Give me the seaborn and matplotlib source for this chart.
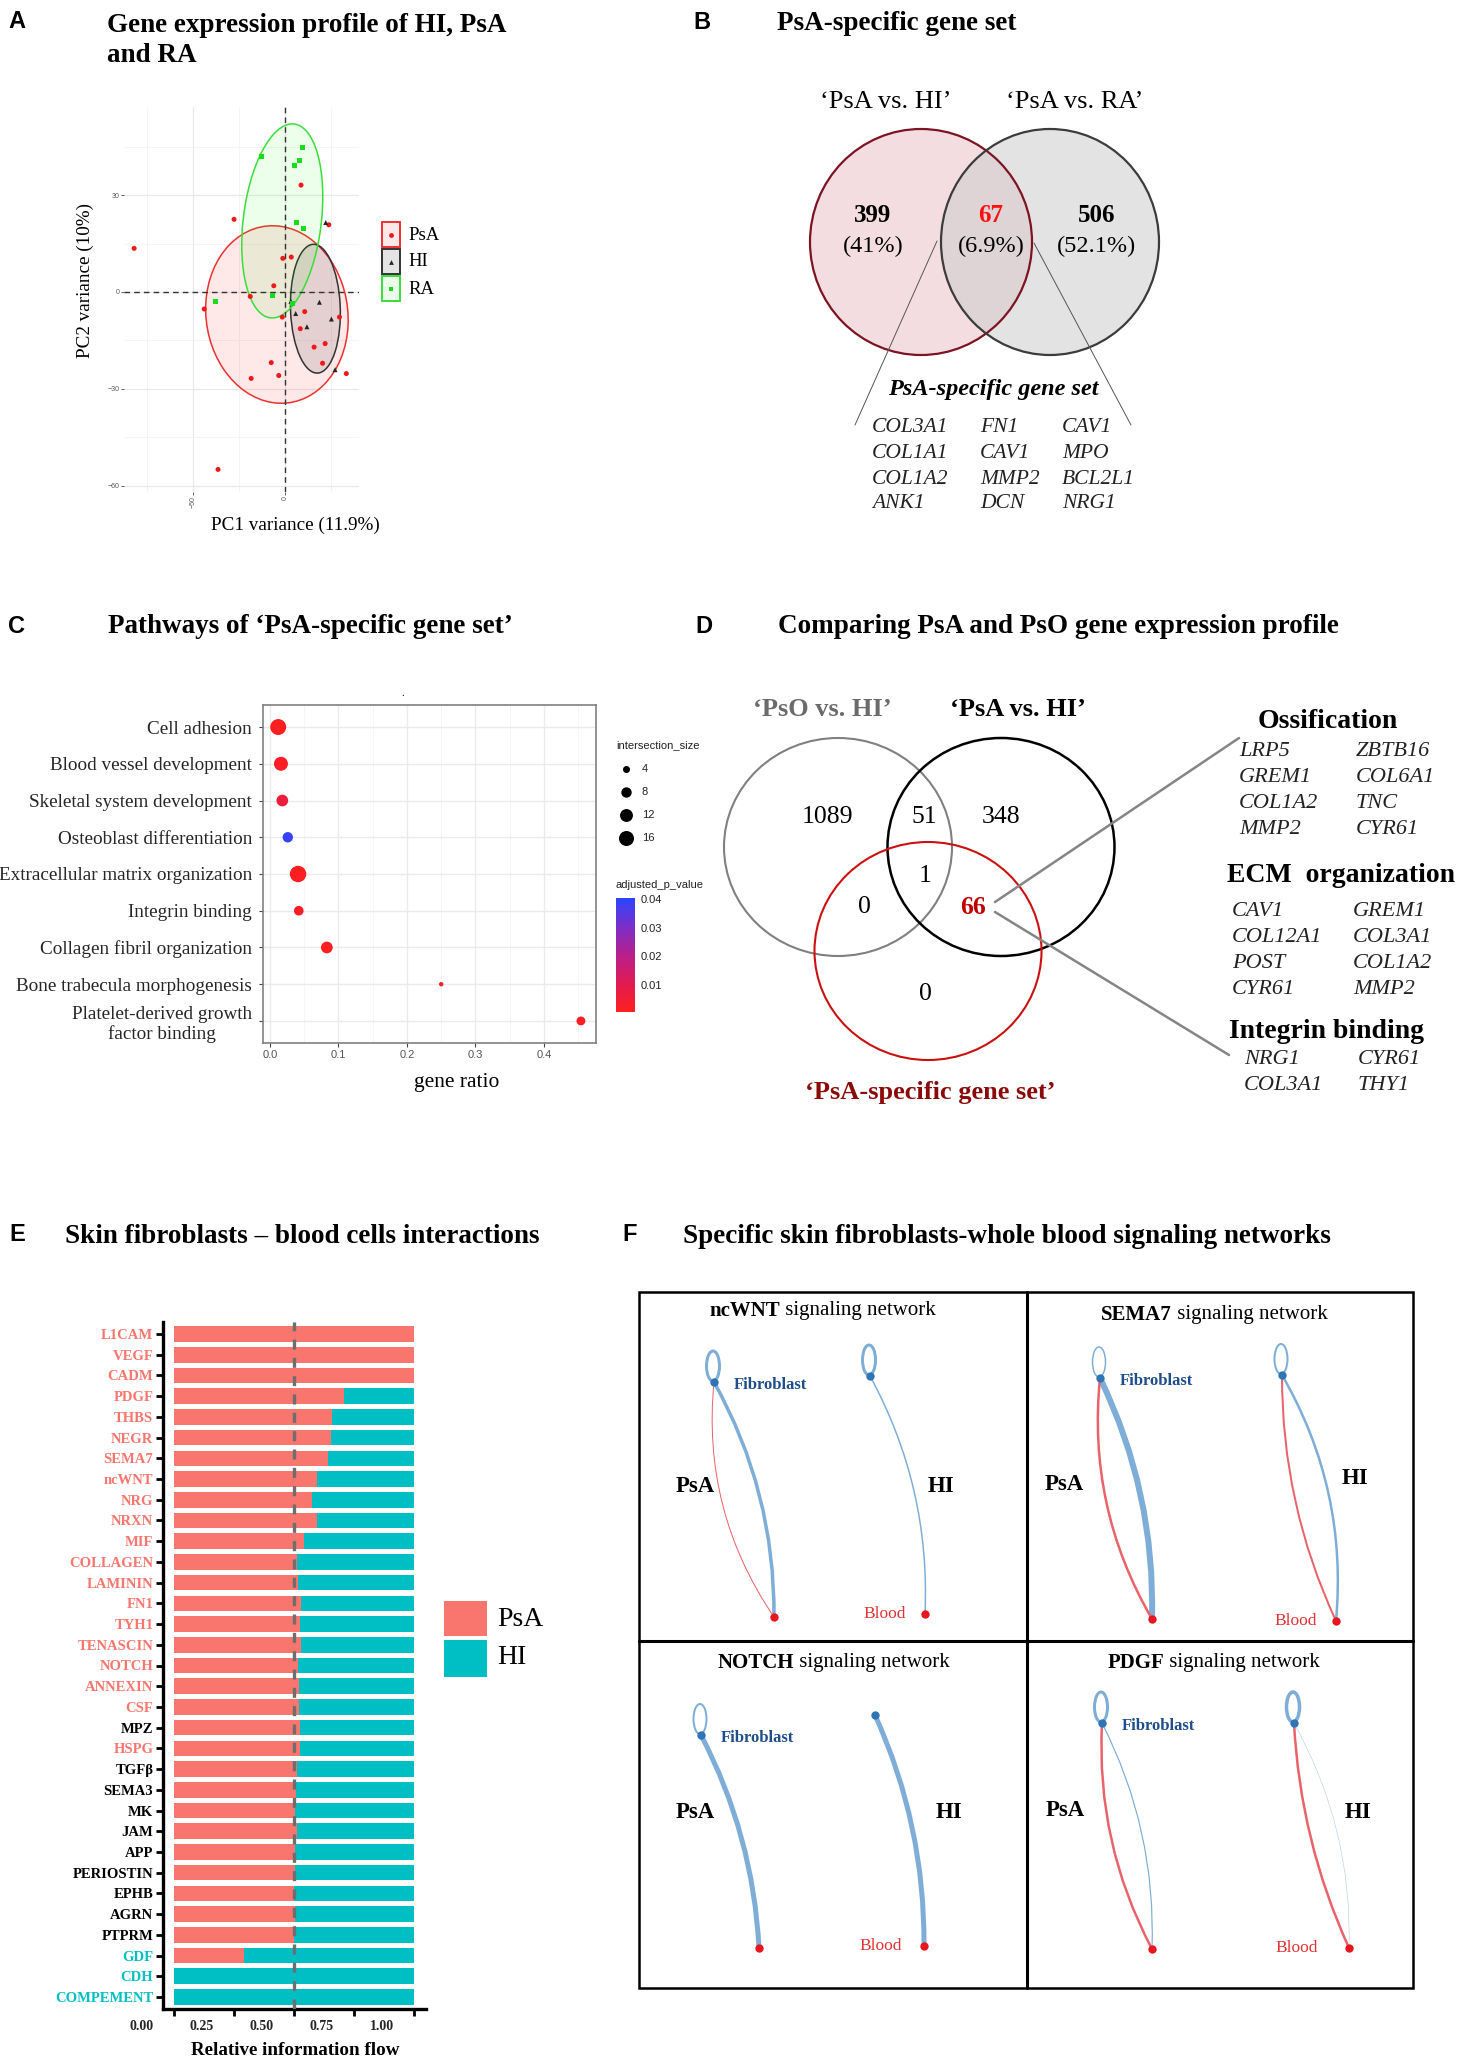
import numpy as np
import pandas as pd
import matplotlib
matplotlib.use("Agg")
import matplotlib.pyplot as plt
import seaborn as sns
from matplotlib.patches import Ellipse, Rectangle, PathPatch
from matplotlib.path import Path
from matplotlib.colors import LinearSegmentedColormap, Normalize
from matplotlib.cm import ScalarMappable
from matplotlib.ticker import FormatStrFormatter
import matplotlib.transforms as mtransforms

# ======================= DATA =======================
# Panel A : PCA scores
psa_pc1 = [-82, -27.7, -1.2, 3.4, -6.1, -18.9, -43.9, -1.5, 10.7, 8.3, 15.8, 21.8,
           -7.5, 20.4, -3.4, -18.4, 29.6, 33.3, 23.8, 8.7, -36.4]
psa_pc2 = [13.5, 22.5, 10.4, 10.8, 1.9, -1.4, -5.3, -7.8, -6.1, -11.4, -17.1, -16.0,
           -21.9, -22.1, -25.9, -26.8, -7.8, -25.3, 20.8, 33.1, -55.0]
hi_pc1 = [3.2, 5.8, 18.7, 25.2, 11.9, 27.2, 22.1]
hi_pc2 = [-2.9, -6.7, -3.2, -8.4, -10.8, -24.1, 21.5]
ra_pc1 = [-12.9, 9.7, 7.8, 5.3, 6.3, 10.2, -37.6, -7.0, 3.9]
ra_pc2 = [41.9, 44.6, 40.6, 39.2, 21.4, 19.7, -2.9, -1.0, -3.6]
groups_A = ["PsA", "HI", "RA"]
ell_cx = [-4.4, 16.5, -1.5]
ell_cy = [-7.0, -5.2, 22.0]
ell_w = [77.6, 40.0, 62.0]
ell_h = [54.8, 27.0, 41.4]
ell_angle = [-5, 95, 71]

# Panel B : Venn
venn_b_sets = ["‘PsA vs. HI’", "‘PsA vs. RA’"]
venn_b_counts = [399, 67, 506]
venn_b_pcts = ["(41%)", "(6.9%)", "(52.1%)"]
psa_gene_cols = [["COL3A1", "COL1A1", "COL1A2", "ANK1"],
                 ["FN1", "CAV1", "MMP2", "DCN"],
                 ["CAV1", "MPO", "BCL2L1", "NRG1"]]

# Panel C : pathway enrichment
pathways = ["Cell adhesion", "Blood vessel development", "Skeletal system development",
            "Osteoblast differentiation", "Extracellular matrix organization",
            "Integrin binding", "Collagen fibril organization",
            "Bone trabecula morphogenesis", "Platelet-derived growth\nfactor binding"]
gene_ratio = [0.012, 0.016, 0.018, 0.026, 0.041, 0.042, 0.083, 0.250, 0.454]
intersection_size = [18, 14, 10, 8, 19, 7, 10, 2, 6]
adjusted_p = [0.001, 0.002, 0.006, 0.039, 0.0008, 0.002, 0.001, 0.004, 0.001]
size_legend_vals = [4, 8, 12, 16]
p_ticks = [0.01, 0.02, 0.03, 0.04]

# Panel D : three-way Venn
venn_d_sets = ["‘PsO vs. HI’", "‘PsA vs. HI’", "‘PsA-specific gene set’"]
venn_d_counts = {"PsO": 1089, "PsO&PsA": 51, "PsA": 348, "all": 1,
                 "PsO&spec": 0, "PsA&spec": 66, "spec": 0}
go_terms = ["Ossification", "ECM  organization", "Integrin binding"]
go_genes = [[["LRP5", "GREM1", "COL1A2", "MMP2"], ["ZBTB16", "COL6A1", "TNC", "CYR61"]],
            [["CAV1", "COL12A1", "POST", "CYR61"], ["GREM1", "COL3A1", "COL1A2", "MMP2"]],
            [["NRG1", "COL3A1"], ["CYR61", "THY1"]]]

# Panel E : relative information flow
signals = ["L1CAM", "VEGF", "CADM", "PDGF", "THBS", "NEGR", "SEMA7", "ncWNT", "NRG", "NRXN",
           "MIF", "COLLAGEN", "LAMININ", "FN1", "TYH1", "TENASCIN", "NOTCH", "ANNEXIN", "CSF",
           "MPZ", "HSPG", "TGFβ", "SEMA3", "MK", "JAM", "APP", "PERIOSTIN", "EPHB", "AGRN",
           "PTPRM", "GDF", "CDH", "COMPEMENT"]
psa_flow = [1, 1, 1, 0.709, 0.658, 0.656, 0.642, 0.594, 0.576, 0.594, 0.540, 0.514, 0.518,
            0.530, 0.527, 0.529, 0.518, 0.519, 0.519, 0.524, 0.524, 0.514, 0.510, 0.506,
            0.514, 0.506, 0.506, 0.498, 0.506, 0.502, 0.29, 0, 0]
signal_group = ["PsA"] * 19 + ["ns", "PsA"] + ["ns"] * 9 + ["HI"] * 3
flow_ticks = [0, 0.25, 0.5, 0.75, 1.0]

# Panel F : signalling networks (edge strengths, px)
net_names = ["ncWNT", "SEMA7", "NOTCH", "PDGF"]
psa_blue_w = [3.5, 6.0, 5.0, 1.2]
psa_red_w = [1.0, 2.5, 0.0, 2.5]
psa_loop_w = [3.0, 1.5, 2.0, 3.0]
hi_blue_w = [1.5, 2.5, 5.0, 0.6]
hi_red_w = [0.0, 2.0, 0.0, 2.5]
hi_loop_w = [3.0, 2.0, 0.0, 3.5]

# ======================= SETUP =======================
W, H = 1459, 2060
sns.set_theme(style="white")
SERIF = ["Liberation Serif", "DejaVu Serif"]
SANS = ["Liberation Sans", "DejaVu Sans"]
plt.rcParams["font.family"] = SERIF

fig = plt.figure(figsize=(W / 100, H / 100), dpi=100)
fig.patch.set_facecolor("white")


def rect(x0, y0, x1, y1):
    return [x0 / W, 1 - y1 / H, (x1 - x0) / W, (y1 - y0) / H]


canvas = fig.add_axes([0, 0, 1, 1])
canvas.set_xlim(0, W)
canvas.set_ylim(H, 0)
canvas.axis("off")
canvas.patch.set_alpha(0)
canvas.set_zorder(10)


def ctext(x, y, s, size, weight="normal", style="normal", color="black", ha="left",
          va="center", family=None, **kw):
    return canvas.text(x, y, s, fontsize=size, fontweight=weight, fontstyle=style,
                       color=color, ha=ha, va=va, family=family or SERIF, **kw)


TS = 19.5
# panel letters & titles (baseline-anchored)
for lab, x, y in [("A", 8, 28), ("B", 693, 29), ("C", 8, 633), ("D", 695, 633),
                  ("E", 9, 1241), ("F", 622, 1241)]:
    ctext(x, y, lab, 17, weight="bold", family=SANS, va="baseline")
ctext(107, 32, "Gene expression profile of HI, PsA", TS, weight="bold", va="baseline")
ctext(107, 62, "and RA", TS, weight="bold", va="baseline")
ctext(777, 30, "PsA-specific gene set", TS, weight="bold", va="baseline")
ctext(108, 633, "Pathways of ‘PsA-specific gene set’", TS, weight="bold", va="baseline")
ctext(778, 633, "Comparing PsA and PsO gene expression profile", TS, weight="bold", va="baseline")
ctext(65, 1243, "Skin fibroblasts – blood cells interactions", TS, weight="bold", va="baseline")
ctext(683, 1243, "Specific skin fibroblasts-whole blood signaling networks", TS, weight="bold",
      va="baseline")

# ======================= PANEL A =======================
axA = fig.add_axes(rect(124, 107, 359, 492))
dfA = pd.DataFrame({
    "PC1": psa_pc1 + hi_pc1 + ra_pc1,
    "PC2": psa_pc2 + hi_pc2 + ra_pc2,
    "group": ["PsA"] * len(psa_pc1) + ["HI"] * len(hi_pc1) + ["RA"] * len(ra_pc1)})
pal_A = {"PsA": "#f01818", "HI": "#262626", "RA": "#19dc19"}
edge_A = {"PsA": "#ee3030", "HI": "#333333", "RA": "#3ade3a"}
fill_A = {"PsA": (1, 0, 0, 0.09), "HI": (0.2, 0.2, 0.2, 0.13), "RA": (0, 1, 0, 0.08)}
for g, cx, cy, w, h, a in zip(groups_A, ell_cx, ell_cy, ell_w, ell_h, ell_angle):
    axA.add_patch(Ellipse((cx, cy), w, h, angle=a, facecolor=fill_A[g],
                          edgecolor=edge_A[g], lw=1.1, zorder=2))
sns.scatterplot(data=dfA, x="PC1", y="PC2", hue="group", style="group",
                markers={"PsA": "o", "HI": "^", "RA": "s"}, palette=pal_A, s=13,
                linewidth=0, legend=False, ax=axA, zorder=4)
axA.axvline(0, color="#333333", ls=(0, (4, 3)), lw=1.0, zorder=3)
axA.axhline(0, color="#333333", ls=(0, (4, 3)), lw=1.0, zorder=3)
axA.set_xlim(-87.5, 40.2)
axA.set_ylim(-62, 57.3)
axA.set_xticks([-50, 0])
axA.set_yticks([-60, -30, 0, 30])
axA.set_xticks([-75, -25, 25], minor=True)
axA.set_yticks([-45, -15, 15, 45], minor=True)
axA.set_axisbelow(True)
axA.grid(which="major", color="#e8e8e8", lw=0.9)
axA.grid(which="minor", color="#f3f3f3", lw=0.6)
for s in axA.spines.values():
    s.set_visible(False)
axA.tick_params(which="major", length=2, width=0.6, color="#444444", labelsize=5,
                labelcolor="#555555", pad=1, bottom=True, left=True)
axA.tick_params(which="minor", length=0)
axA.tick_params(axis="x", labelrotation=90)
for lab in axA.get_xticklabels() + axA.get_yticklabels():
    lab.set_fontfamily(SANS)
axA.set_xlabel("")
axA.set_ylabel("")
ctext(295, 525, "PC1 variance (11.9%)", 13.8, ha="center")
ctext(85, 280, "PC2 variance (10%)", 13.8, ha="center", rotation=90)
# legend A
mk = {"PsA": "o", "HI": "^", "RA": "s"}
for i, g in enumerate(groups_A):
    y0 = 222 + i * 27
    canvas.add_patch(Rectangle((382, y0), 18, 25, facecolor=fill_A[g], edgecolor=edge_A[g], lw=1.4))
    canvas.scatter([391], [y0 + 12.5], marker=mk[g], s=12, color=pal_A[g], linewidths=0)
    ctext(408, y0 + 13, g, 13.5)

# ======================= PANEL B =======================
canvas.add_patch(Ellipse((921, 242), 222, 226, facecolor="#f4dde0", edgecolor="none", zorder=1))
canvas.add_patch(Ellipse((1050, 242), 218, 226, facecolor=(0.80, 0.80, 0.80, 0.55),
                         edgecolor="none", zorder=1))
canvas.add_patch(Ellipse((921, 242), 222, 226, facecolor="none", edgecolor="#7d1424", lw=1.6, zorder=2))
canvas.add_patch(Ellipse((1050, 242), 218, 226, facecolor="none", edgecolor="#3c3c3c", lw=1.6, zorder=2))
ctext(886, 102, venn_b_sets[0], 19, ha="center")
ctext(1075, 102, venn_b_sets[1], 19, ha="center")
for x, c, p, col in zip([873, 991, 1097], venn_b_counts, venn_b_pcts, ["black", "#ff1010", "black"]):
    ctext(x, 216, str(c), 18, weight="bold", ha="center", color=col)
    ctext(x, 246, p, 17.5, ha="center")
canvas.plot([937, 855], [241, 425], color="#555555", lw=0.7)
canvas.plot([1034, 1131], [243, 425], color="#555555", lw=0.7)
ctext(993, 389, "PsA-specific gene set", 17.5, weight="bold", style="italic", ha="center")
for x, col in zip([872, 980, 1062], psa_gene_cols):
    for y, gname in zip([427, 453, 479, 504], col):
        ctext(x, y, gname, 15.5, style="italic", color="#222222")

# ======================= PANEL C =======================
axC = fig.add_axes(rect(263, 705, 596, 1043))
dfC = pd.DataFrame({"term": pathways, "ratio": gene_ratio, "isize": intersection_size,
                    "padj": adjusted_p})
cmapC = LinearSegmentedColormap.from_list("rb", ["#ff1f1f", "#e01b52", "#b81f8c", "#7a2ec8", "#2b45ff"])
normC = Normalize(0.0005, 0.0404)
S_MIN, S_MAX, V_MIN, V_MAX = 2.5, 139.7, 1, 19
sns.scatterplot(data=dfC, x="ratio", y="term", hue="padj", hue_norm=normC, palette=cmapC,
                size="isize", sizes=(S_MIN, S_MAX), size_norm=(V_MIN, V_MAX), linewidth=0,
                legend=False, ax=axC, zorder=3)
axC.set_xlim(-0.0102, 0.476)
axC.set_ylim(len(pathways) - 0.4, -0.6)
axC.set_xticks([0, 0.1, 0.2, 0.3, 0.4])
axC.set_xticks([0.05, 0.15, 0.25, 0.35, 0.45], minor=True)
axC.xaxis.set_major_formatter(FormatStrFormatter("%.1f"))
axC.set_axisbelow(True)
axC.grid(which="major", color="#ebebeb", lw=1.0)
axC.grid(which="minor", axis="x", color="#f4f4f4", lw=0.6)
for s in axC.spines.values():
    s.set_color("#808080")
    s.set_linewidth(1.2)
axC.tick_params(axis="y", labelsize=13.8, length=3, width=0.8, color="#444444", pad=5, left=True)
axC.tick_params(axis="x", labelsize=8, length=3, width=0.8, color="#444444", pad=2,
                labelcolor="#555555", bottom=True)
for lab in axC.get_xticklabels():
    lab.set_fontfamily(SANS)
for lab in axC.get_yticklabels():
    lab.set_multialignment("center")
axC.set_xlabel("")
axC.set_ylabel("")
ctext(457, 1082, "gene ratio", 15.5, ha="center")
ctext(403, 694, ".", 8, ha="center")
# size legend
ctext(616, 745, "intersection_size", 8, family=SANS, color="#222222")
for v, y in zip(size_legend_vals, [769, 792, 815, 838]):
    canvas.scatter([626], [y], s=S_MIN + (v - V_MIN) * (S_MAX - S_MIN) / (V_MAX - V_MIN),
                   color="black", linewidths=0)
    ctext(642, y, str(v), 8, family=SANS, color="#222222")
ctext(616, 885, "adjusted_p_value", 8, family=SANS, color="#222222")
caxC = fig.add_axes(rect(616, 898, 635, 1012))
cb = fig.colorbar(ScalarMappable(norm=normC, cmap=cmapC), cax=caxC)
cb.set_ticks(p_ticks)
cb.outline.set_visible(False)
caxC.tick_params(labelsize=8, length=3, color="white", direction="in", width=0.8,
                 labelcolor="#222222", pad=4)
for lab in caxC.get_yticklabels():
    lab.set_fontfamily(SANS)

# ======================= PANEL D =======================
canvas.add_patch(Ellipse((838, 847), 228, 218, facecolor="none", edgecolor="#808080", lw=1.5))
canvas.add_patch(Ellipse((1001, 847), 227, 218, facecolor="none", edgecolor="black", lw=1.8))
canvas.add_patch(Ellipse((928, 951), 227, 218, facecolor="none", edgecolor="#cc1010", lw=1.5))
ctext(822, 709, venn_d_sets[0], 19, weight="bold", color="#6b6b6b", ha="center")
ctext(1018, 709, venn_d_sets[1], 19, weight="bold", ha="center")
ctext(930, 1093, venn_d_sets[2], 19, weight="bold", color="#8b0a0a", ha="center")
for key, (x, y) in {"PsO": (827, 817), "PsO&PsA": (924, 817), "PsA": (1001, 817),
                    "all": (925, 876), "PsO&spec": (864, 907), "spec": (925, 994)}.items():
    ctext(x, y, str(venn_d_counts[key]), 18.5, ha="center")
ctext(973, 907, str(venn_d_counts["PsA&spec"]), 18.5, weight="bold", color="#c00000", ha="center")
canvas.plot([995, 1239], [902, 738], color="#858585", lw=1.8)
canvas.plot([995, 1229], [912, 1055], color="#858585", lw=1.8)
head_pos = [(1258, 721), (1227, 876), (1229, 1032)]
col_x = [(1239, 1356), (1232, 1353), (1244, 1358)]
row_y = [[752, 778, 803, 830], [912, 937, 964, 990], [1060, 1086]]
for term, (hx, hy), cx, ry, genes in zip(go_terms, head_pos, col_x, row_y, go_genes):
    ctext(hx, hy, term, 20, weight="bold")
    for x, col in zip(cx, genes):
        for y, gname in zip(ry, col):
            ctext(x, y, gname, 16, style="italic", color="#222222")

# ======================= PANEL E =======================
axE = fig.add_axes(rect(163, 1322, 426, 2009))
dfE = pd.DataFrame({"signal": signals, "PsA": psa_flow})
dfE["HI"] = 1 - dfE["PsA"]
dfE["stack"] = dfE["PsA"] + dfE["HI"]
sns.barplot(data=dfE, y="signal", x="stack", orient="h", color="#00BFC4", saturation=1,
            width=0.75, linewidth=0, ax=axE)
sns.barplot(data=dfE, y="signal", x="PsA", orient="h", color="#F8766D", saturation=1,
            width=0.75, linewidth=0, ax=axE)
axE.axvline(0.5, color="#6e6e6e", lw=2.4, ls=(0, (3, 2.5)), zorder=5)
axE.set_xlim(-0.0458, 1.05)
axE.set_ylim(len(signals) - 1 + 0.58, -0.58)
for s in ["top", "right"]:
    axE.spines[s].set_visible(False)
for s in ["left", "bottom"]:
    axE.spines[s].set_color("black")
    axE.spines[s].set_linewidth(2.4)
axE.set_xticks(flow_ticks)
axE.set_xticklabels([f"{v:.2f}" for v in flow_ticks])
axE.tick_params(axis="x", length=5, width=2, color="black", labelsize=10, pad=3, bottom=True)
axE.tick_params(axis="y", length=5, width=2, color="black", labelsize=10.5, pad=2, left=True)
off = mtransforms.ScaledTranslation(-0.32, 0, fig.dpi_scale_trans)
for lab in axE.get_xticklabels():
    lab.set_transform(lab.get_transform() + off)
    lab.set_fontweight("bold")
lab_col = {"PsA": "#F8766D", "ns": "black", "HI": "#00BFC4"}
for lab, g in zip(axE.get_yticklabels(), signal_group):
    lab.set_color(lab_col[g])
    lab.set_fontweight("bold")
axE.set_xlabel("")
axE.set_ylabel("")
ctext(295, 2042, "Relative information flow", 13.7, weight="bold", ha="center", va="top")
canvas.add_patch(Rectangle((444, 1601), 43, 35, facecolor="#F8766D", edgecolor="none"))
canvas.add_patch(Rectangle((444, 1640), 43, 37, facecolor="#00BFC4", edgecolor="none"))
ctext(497, 1619, "PsA", 20)
ctext(497, 1658, "HI", 20)

# ======================= PANEL F =======================
canvas.add_patch(Rectangle((639, 1292), 774, 696, facecolor="none", edgecolor="black", lw=1.8))
canvas.plot([1027, 1027], [1292, 1988], color="black", lw=2.2)
canvas.plot([639, 1413], [1641, 1641], color="black", lw=2.2)

BLUE_E, RED_E, FIB_N, BLD_N = "#7eaed8", "#e9636a", "#2f74b5", "#e8161e"
origins = [(639, 1292), (1027, 1292), (639, 1641), (1027, 1641)]
lay = [  # node / label layout per sub-network
    dict(pf=(75, 90), pb=(135, 325), hf=(231, 84), hb=(286, 322), t=(184, 19),
         pl=(37, 195), hl=(289, 195), bd=-19, bb=(32, -44, 34, -30)),
    dict(pf=(73, 86), pb=(125, 327), hf=(255, 83), hb=(309, 329), t=(187, 23),
         pl=(18, 193), hl=(315, 187), bd=-19, bb=(30, -40, 40, -28)),
    dict(pf=(62, 94), pb=(120, 307), hf=(236, 74), hb=(285, 305), t=(195, 22),
         pl=(37, 171), hl=(297, 171), bd=-22, bb=(24, -30, 26, -26)),
    dict(pf=(75, 82), pb=(125, 308), hf=(267, 82), hb=(322, 307), t=(187, 22),
         pl=(19, 169), hl=(318, 172), bd=-31, bb=(30, -32, 32, -22)),
]


def edge(p0, p2, bulge, color, w_px):
    if w_px <= 0:
        return
    p0 = np.asarray(p0, float)
    p2 = np.asarray(p2, float)
    d = p2 - p0
    n = np.array([d[1], -d[0]]) / np.hypot(*d)
    p1 = (p0 + p2) / 2 + n * bulge
    canvas.add_patch(PathPatch(Path([p0, p1, p2], [Path.MOVETO, Path.CURVE3, Path.CURVE3]),
                               fc="none", ec=color, lw=w_px * 0.72, capstyle="round", zorder=3))


renderer = fig.canvas.get_renderer()
for i, name in enumerate(net_names):
    ox, oy = origins[i]
    L = lay[i]
    P = lambda q: (ox + q[0], oy + q[1])
    pf, pb, hf, hb = P(L["pf"]), P(L["pb"]), P(L["hf"]), P(L["hb"])
    b1, b2, b3, b4 = L["bb"]
    edge(pf, pb, b1, BLUE_E, psa_blue_w[i])
    edge(pf, pb, b2, RED_E, psa_red_w[i])
    edge(hf, hb, b3, BLUE_E if hi_blue_w[i] > 1 else "#b9d0e6", hi_blue_w[i])
    edge(hf, hb, b4, RED_E, hi_red_w[i])
    for (fx, fy), lw_ in [(pf, psa_loop_w[i]), (hf, hi_loop_w[i])]:
        if lw_ > 0:
            canvas.add_patch(Ellipse((fx - 1, fy - 16), 13, 30, facecolor="none",
                                     edgecolor=BLUE_E, lw=lw_ * 0.72, zorder=3))
    canvas.scatter([pf[0], hf[0]], [pf[1], hf[1]], s=36, color=FIB_N, linewidths=0, zorder=4)
    canvas.scatter([pb[0], hb[0]], [pb[1], hb[1]], s=36, color=BLD_N, linewidths=0, zorder=4)
    ctext(pf[0] + 20, pf[1] + 3, "Fibroblast", 12, weight="bold", color="#1f4e8c")
    ctext(hb[0] + L["bd"], hb[1], "Blood", 12.5, color="#e03232", ha="right")
    ctext(ox + L["pl"][0], oy + L["pl"][1], "PsA", 16.5, weight="bold")
    ctext(ox + L["hl"][0], oy + L["hl"][1], "HI", 16.5, weight="bold")
    # title: bold name + regular rest, centred
    tx, ty = ox + L["t"][0], oy + L["t"][1]
    t1 = ctext(0, ty, name, 15, weight="bold")
    t2 = ctext(0, ty, " signaling network", 15)
    w1 = t1.get_window_extent(renderer).width
    w2 = t2.get_window_extent(renderer).width
    t1.set_x(tx - (w1 + w2) / 2)
    t2.set_x(tx - (w1 + w2) / 2 + w1)

fig.savefig("out.png", dpi=100, facecolor="white")
